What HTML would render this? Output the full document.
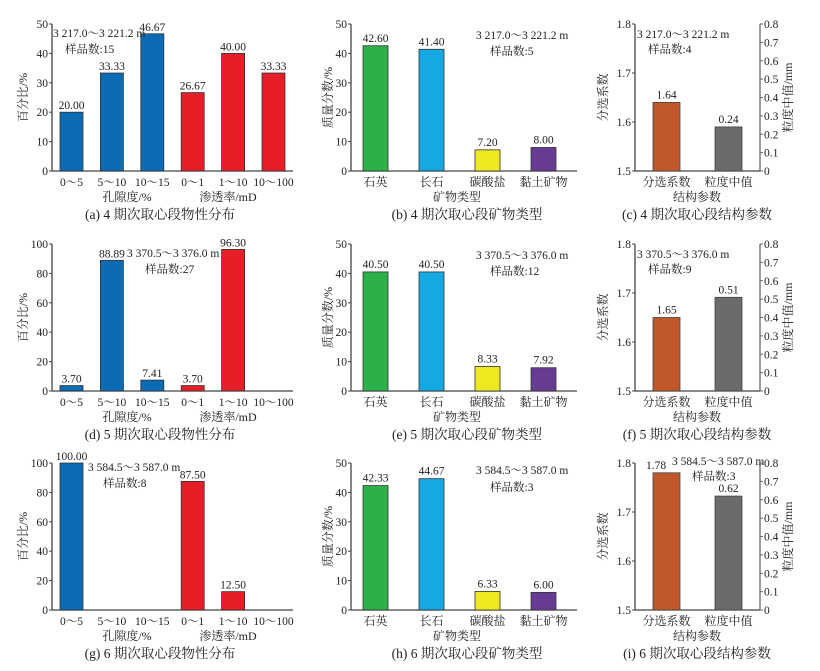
<!DOCTYPE html>
<html><head><meta charset="utf-8"><style>
body{margin:0;background:#fff}
svg{display:block;font-family:"Liberation Serif","Noto Serif CJK SC",serif}
</style></head><body>
<svg id="fig" width="820" height="671" viewBox="0 0 820 671"></svg>
<script>
// ---- data ----
const physCats = ["0～5","5～10","10～15","0～1","1～10","10～100"];
const physA = [20.00,33.33,46.67,26.67,40.00,33.33];
const physD = [3.70,88.89,7.41,3.70,96.30,0];
const physG = [100.00,0,0,87.50,12.50,0];
const physTicksA = [0,10,20,30,40,50];
const physTicks100 = [0,20,40,60,80,100];
const minCats = ["石英","长石","碳酸盐","黏土矿物"];
const minB = [42.60,41.40,7.20,8.00];
const minE = [40.50,40.50,8.33,7.92];
const minH = [42.33,44.67,6.33,6.00];
const minTicks = [0,10,20,30,40,50];
const strCats = ["分选系数","粒度中值"];
const sortC = 1.64, grainC = 0.24;
const sortF = 1.65, grainF = 0.51;
const sortI = 1.78, grainI = 0.62;
const leftTicks = [1.5,1.6,1.7,1.8];
const rightTicks = [0,0.1,0.2,0.3,0.4,0.5,0.6,0.7,0.8];

const NS="http://www.w3.org/2000/svg";
const svg=document.getElementById('fig');
function el(tag,attrs,parent,text){const e=document.createElementNS(NS,tag);for(const k in attrs)e.setAttribute(k,attrs[k]);if(text!==undefined)e.textContent=text;(parent||svg).appendChild(e);return e;}
const AX="#444";
function txt(x,y,s,size,anchor,parent,name){const t=el('text',{x:x,y:y,'font-size':size,'text-anchor':anchor||'middle',fill:'#222'},parent,s);

return t;}
function vtxt(x,y,s,size,parent,name){const t=el('text',{x:0,y:0,'font-size':size,'text-anchor':'middle',fill:'#222',transform:`translate(${x},${y}) rotate(-90)`},parent,s);

return t;}
function fmt(v,d){return v.toFixed(d);}

function physPanel(dy,vals,ticks,ymax,cap,range,n,ax,ay,nx,ny){
  const g=el('g',{});
  
  
  const x0=52,x1=293,yT=24+dy,yB=171+dy;
  const ys=v=>yB-(v/ymax)*(yB-yT);
  el('line',{x1:x0,y1:yT,x2:x0,y2:yB,stroke:AX,'stroke-width':1.3},g);
  el('line',{x1:x0,y1:yB,x2:x1,y2:yB,stroke:AX,'stroke-width':1.3},g);
  ticks.forEach(t=>{const y=ys(t);el('line',{x1:x0-3,y1:y,x2:x0,y2:y,stroke:AX},g);txt(x0-4,y+4,String(t),11.5,'end',g,'y-tick-label');});
  vtxt(27,(yT+yB)/2,"百分比/%",12,g,'y-axis-title');
  vals.forEach((v,i)=>{const cx=71.5+i*40.4;
    const col=i<3?"#0b6bb5":"#e61e28";
    if(v>0){const r=el('rect',{x:cx-11.5,y:ys(v),width:23,height:yB-ys(v),fill:col,stroke:'#333','stroke-width':0.8},g);
      
      
      txt(cx,ys(v)-3,fmt(v,2),11.5,'middle',g,'value-label');}
    txt(cx,yB+15,physCats[i],11.5,'middle',g,'x-tick-label');});
  txt(127,yB+30,"孔隙度/%",12,'middle',g,'x-group-title');
  txt(228,yB+30,"渗透率/mD",12,'middle',g,'x-group-title');
  txt(160,yB+48,cap,13.5,'middle',g,'caption');
  txt(ax,ay+dy,range,11.5,'start',g,'depth-annotation');
  txt(nx,ny+dy,"样品数:"+n,11.5,'start',g,'sample-count');
}
function minPanel(dy,vals,cap,range,n,ax,ay,nx,ny){
  const g=el('g',{});
  
  
  const x0=351,x1=577,yT=24+dy,yB=171+dy;
  const ys=v=>yB-(v/50)*(yB-yT);
  el('line',{x1:x0,y1:yT,x2:x0,y2:yB,stroke:AX,'stroke-width':1.3},g);
  el('line',{x1:x0,y1:yB,x2:x1,y2:yB,stroke:AX,'stroke-width':1.3},g);
  minTicks.forEach(t=>{const y=ys(t);el('line',{x1:x0-3,y1:y,x2:x0,y2:y,stroke:AX},g);txt(x0-4,y+4,String(t),11.5,'end',g,'y-tick-label');});
  vtxt(332,(yT+yB)/2,"质量分数/%",12,g,'y-axis-title');
  const cols=["#2bb04a","#14a9e2","#ede820","#673a93"];
  vals.forEach((v,i)=>{const cx=375.5+i*56;
    const r=el('rect',{x:cx-12.5,y:ys(v),width:25,height:yB-ys(v),fill:cols[i],stroke:'#333','stroke-width':0.8},g);
    
    
    txt(cx,ys(v)-4,fmt(v,2),11.5,'middle',g,'value-label');
    txt(cx,yB+15,minCats[i],12,'middle',g,'x-tick-label');});
  txt(457,yB+30,"矿物类型",12,'middle',g,'x-axis-title');
  txt(467,yB+48,cap,13.5,'middle',g,'caption');
  txt(ax,ay+dy,range,11.5,'start',g,'depth-annotation');
  txt(nx,ny+dy,"样品数:"+n,11.5,'start',g,'sample-count');
}
function strPanel(dy,sv,gv,cap,range,n,ax,ay,nx,ny,svLabelX){
  const g=el('g',{});
  
  
  const x0=635,x1=760,yT=24+dy,yB=171+dy;
  const ysL=v=>yB-((v-1.5)/0.3)*(yB-yT);
  const ysR=v=>yB-(v/0.8)*(yB-yT);
  el('line',{x1:x0,y1:yT,x2:x0,y2:yB,stroke:AX,'stroke-width':1.3},g);
  el('line',{x1:x0,y1:yB,x2:x1,y2:yB,stroke:AX,'stroke-width':1.3},g);
  el('line',{x1:x1,y1:yT,x2:x1,y2:yB,stroke:'#666','stroke-width':1.3},g);
  leftTicks.forEach(t=>{const y=ysL(t);el('line',{x1:x0-3,y1:y,x2:x0,y2:y,stroke:AX},g);txt(x0-4,y+4,t.toFixed(1),11.5,'end',g,'y-tick-label');});
  rightTicks.forEach(t=>{const y=ysR(t);el('line',{x1:x1,y1:y,x2:x1+3,y2:y,stroke:'#666'},g);txt(x1+4,y+4,t===0?"0":t.toFixed(1),11.5,'start',g,'y2-tick-label');});
  vtxt(607,(yT+yB)/2,"分选系数",12,g,'y-axis-title');
  vtxt(792,(yT+yB)/2,"粒度中值/mm",12,g,'y2-axis-title');
  const r1=el('rect',{x:653,y:ysL(sv),width:27,height:yB-ysL(sv),fill:'#c0582a',stroke:'#444','stroke-width':0.8},g);
  
  
  txt(svLabelX||666.5,ysL(sv)-4,sv.toFixed(2),11.5,'middle',g,'value-label');
  const r2=el('rect',{x:715,y:ysR(gv),width:27,height:yB-ysR(gv),fill:'#6d6a6e',stroke:'#444','stroke-width':0.8},g);
  
  
  txt(728.5,ysR(gv)-4,gv.toFixed(2),11.5,'middle',g,'value-label');
  txt(666.5,yB+15,strCats[0],12,'middle',g,'x-tick-label');
  txt(728.5,yB+15,strCats[1],12,'middle',g,'x-tick-label');
  txt(697,yB+30,"结构参数",12,'middle',g,'x-axis-title');
  txt(697,yB+48,cap,13.5,'middle',g,'caption');
  txt(ax,ay+dy,range,11.5,'start',g,'depth-annotation');
  txt(nx,ny+dy,"样品数:"+n,11.5,'start',g,'sample-count');
}
physPanel(0,physA,physTicksA,50,"(a) 4 期次取心段物性分布","3 217.0～3 221.2 m",15,53,37,65,53);
physPanel(220,physD,physTicks100,100,"(d) 5 期次取心段物性分布","3 370.5～3 376.0 m",27,127,37,145,53);
physPanel(439,physG,physTicks100,100,"(g) 6 期次取心段物性分布","3 584.5～3 587.0 m",8,88,32,103,48);
minPanel(0,minB,"(b) 4 期次取心段矿物类型","3 217.0～3 221.2 m",5,476,39,490,55);
minPanel(220,minE,"(e) 5 期次取心段矿物类型","3 370.5～3 376.0 m",12,476,39,490,55);
minPanel(439,minH,"(h) 6 期次取心段矿物类型","3 584.5～3 587.0 m",3,476,35,490,52);
strPanel(0,sortC,grainC,"(c) 4 期次取心段结构参数","3 217.0～3 221.2 m",4,637,38,648,53);
strPanel(220,sortF,grainF,"(f) 5 期次取心段结构参数","3 370.5～3 376.0 m",9,637,38,648,53);
strPanel(439,sortI,grainI,"(i) 6 期次取心段结构参数","3 584.5～3 587.0 m",3,672,26,692,41,656);
</script>
</body></html>
